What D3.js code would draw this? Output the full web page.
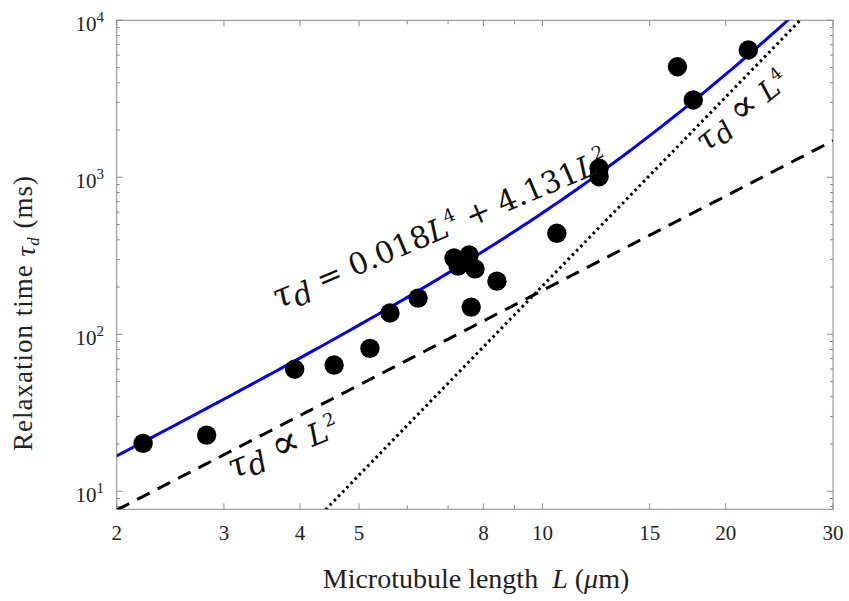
<!DOCTYPE html>
<html>
<head>
<meta charset="utf-8">
<script src="https://cdn.jsdelivr.net/npm/d3@7"></script>
<style>
  body { margin: 0; background: #fff; }
  svg { display: block; }
  text { white-space: pre; }
</style>
</head>
<body>
<svg id="chart" width="849" height="601"></svg>
<script>
"use strict";
// measured points: microtubule length (um) and relaxation time (ms)
const lengths = [2.21, 2.81, 3.92, 4.55, 5.21, 5.62, 6.25, 7.16, 7.27, 7.58, 7.64, 7.75, 8.42, 10.56, 12.39, 12.39, 16.66, 17.69, 21.78];
const times = [20.2, 22.8, 59.9, 63.7, 81.4, 136.7, 170, 306, 272, 320, 149, 261, 218, 440, 1141, 1009, 5060, 3108, 6470];
// fit tau = a L^4 + b L^2, plus the two asymptotes
const fitA = 0.018, fitB = 4.131;
const coefL2 = 1.9, coefL4 = 0.0203;
const xTickMajor = [2, 3, 4, 5, 8, 10, 15, 20, 30];
const xTickMinor = [6, 7, 9];
const yTickMajor = [10, 100, 1000, 10000];
const yTickMinor = [8, 9, 20, 30, 40, 50, 60, 70, 80, 90, 200, 300, 400, 500, 600, 700, 800, 900,
  2000, 3000, 4000, 5000, 6000, 7000, 8000, 9000];

const svg = d3.select("#chart");
const m = {left: 116.7, right: 833, top: 20.3, bottom: 509.3};
const x = d3.scaleLog().domain([2, 30]).range([m.left, m.right]);
const y = d3.scaleLog().domain([7.68, 10000]).range([m.bottom, m.top]);
const axisColor = "#8a8a8a";
const serif = "'Liberation Serif', 'Times New Roman', serif";
const mathFont = "'DejaVu Serif', serif";

svg.append("clipPath").attr("id", "plot")
  .append("rect").attr("x", m.left).attr("y", m.top)
  .attr("width", m.right - m.left).attr("height", m.bottom - m.top);

// axes: box with inward ticks on all sides
function ticksX(g, vals, len, dir) {
  g.selectAll(null).data(vals).enter().append("line")
    .attr("x1", d => x(d)).attr("x2", d => x(d))
    .attr("y1", 0).attr("y2", dir * len)
    .attr("stroke", axisColor).attr("stroke-width", 1);
}
function ticksY(g, vals, len, dir) {
  g.selectAll(null).data(vals).enter().append("line")
    .attr("y1", d => y(d)).attr("y2", d => y(d))
    .attr("x1", 0).attr("x2", dir * len)
    .attr("stroke", axisColor).attr("stroke-width", 1);
}
const gBottom = svg.append("g").attr("transform", `translate(0,${m.bottom})`);
ticksX(gBottom, xTickMajor, 6, -1); ticksX(gBottom, xTickMinor, 4, -1);
const gTop = svg.append("g").attr("transform", `translate(0,${m.top})`);
ticksX(gTop, xTickMajor, 6, 1); ticksX(gTop, xTickMinor, 4, 1);
const gLeft = svg.append("g").attr("transform", `translate(${m.left},0)`);
ticksY(gLeft, yTickMajor, 6, 1); ticksY(gLeft, yTickMinor, 3, 1);
const gRight = svg.append("g").attr("transform", `translate(${m.right},0)`);
ticksY(gRight, yTickMajor, 6, -1); ticksY(gRight, yTickMinor, 3, -1);

svg.append("rect")
  .attr("x", m.left).attr("y", m.top)
  .attr("width", m.right - m.left).attr("height", m.bottom - m.top)
  .attr("fill", "none").attr("stroke", axisColor).attr("stroke-width", 1);

svg.append("g").selectAll("text").data(xTickMajor).enter().append("text")
  .attr("x", d => x(d)).attr("y", m.bottom + 31)
  .attr("text-anchor", "middle")
  .attr("font-family", serif).attr("font-size", 21).attr("fill", "#222")
  .text(d => d);

const yl = svg.append("g").selectAll("text").data(yTickMajor).enter().append("text")
  .attr("x", 104).attr("y", d => y(d) + 11)
  .attr("text-anchor", "end")
  .attr("font-family", serif).attr("font-size", 21).attr("fill", "#222");
yl.append("tspan").text("10");
yl.append("tspan").attr("dy", -9).attr("font-size", 15).text(d => Math.round(Math.log10(d)));

// axis titles
const xt = svg.append("text")
  .attr("x", 476).attr("y", 588).attr("text-anchor", "middle")
  .attr("font-family", serif).attr("font-size", 28).attr("fill", "#222");
xt.append("tspan").text("Microtubule length  ");
xt.append("tspan").attr("font-style", "italic").text("L");
xt.append("tspan").text(" (");
xt.append("tspan").attr("font-style", "italic").text("\u03bc");
xt.append("tspan").text("m)");

const ytl = svg.append("text")
  .attr("transform", "translate(32,313) rotate(-90)").attr("text-anchor", "middle")
  .attr("font-family", serif).attr("font-size", 27).attr("letter-spacing", 1)
  .attr("fill", "#222");
ytl.append("tspan").text("Relaxation time ");
ytl.append("tspan").attr("font-style", "italic").attr("dy", 3).text("\u03c4");
ytl.append("tspan").attr("font-style", "italic").attr("font-size", 17).attr("dy", 4).text("d");
ytl.append("tspan").attr("dy", -7).text(" (ms)");

// curves
const plot = svg.append("g").attr("clip-path", "url(#plot)");
const Ls = d3.range(0, 201).map(i => 2 * Math.pow(15, i / 200));
const line = d3.line().x(d => x(d[0])).y(d => y(d[1]));

plot.append("path")
  .datum(Ls.map(L => [L, coefL4 * L ** 4]).filter(d => d[1] > 1))
  .attr("d", line).attr("fill", "none")
  .attr("stroke", "#000").attr("stroke-width", 3).attr("stroke-dasharray", "2.6 3.4");

plot.append("path")
  .datum(Ls.map(L => [L, coefL2 * L ** 2]))
  .attr("d", line).attr("fill", "none")
  .attr("stroke", "#000").attr("stroke-width", 3).attr("stroke-dasharray", "14 9");

plot.append("path")
  .datum(Ls.map(L => [L, fitA * L ** 4 + fitB * L ** 2]))
  .attr("d", line).attr("fill", "none")
  .attr("stroke", "#0000ff").attr("stroke-width", 3);

svg.append("g").selectAll("circle").data(lengths).enter().append("circle")
  .attr("cx", d => x(d)).attr("cy", (d, i) => y(times[i]))
  .attr("r", 9.7).attr("fill", "#000");

// annotations
function mathLabel(px, py, angle, size, parts) {
  const t = svg.append("text")
    .attr("transform", `translate(${px},${py}) rotate(${angle})`)
    .attr("font-family", mathFont).attr("font-size", size).attr("fill", "#111");
  parts.forEach(p => {
    const s = t.append("tspan").text(p.t);
    if (p.i) s.attr("font-style", "italic");
    if (p.dy) s.attr("dy", p.dy);
    if (p.fs) s.attr("font-size", p.fs);
  });
  return t;
}
mathLabel(278, 309, -23, 30, [
  {t: "\u03c4", i: 1, fs: 34}, {t: "d", i: 1, dy: 6}, {t: " = 0.018", dy: -6},
  {t: "L", i: 1}, {t: "4", dy: -13, fs: 18}, {t: " + 4.131", dy: 13},
  {t: "L", i: 1}, {t: "2", dy: -13, fs: 18}
]);
mathLabel(233, 479, -22, 30, [
  {t: "\u03c4", i: 1, fs: 34}, {t: "d", i: 1, dy: 5}, {t: " ", dy: -5},
  {t: "\u221d", fs: 42}, {t: " "},
  {t: "L", i: 1}, {t: "2", dy: -13, fs: 18}
]);
mathLabel(706, 153, -39, 28, [
  {t: "\u03c4", i: 1, fs: 32}, {t: "d", i: 1, dy: 5}, {t: " ", dy: -5},
  {t: "\u221d", fs: 39}, {t: " "},
  {t: "L", i: 1}, {t: "4", dy: -12, fs: 17}
]);
</script>
</body>
</html>
